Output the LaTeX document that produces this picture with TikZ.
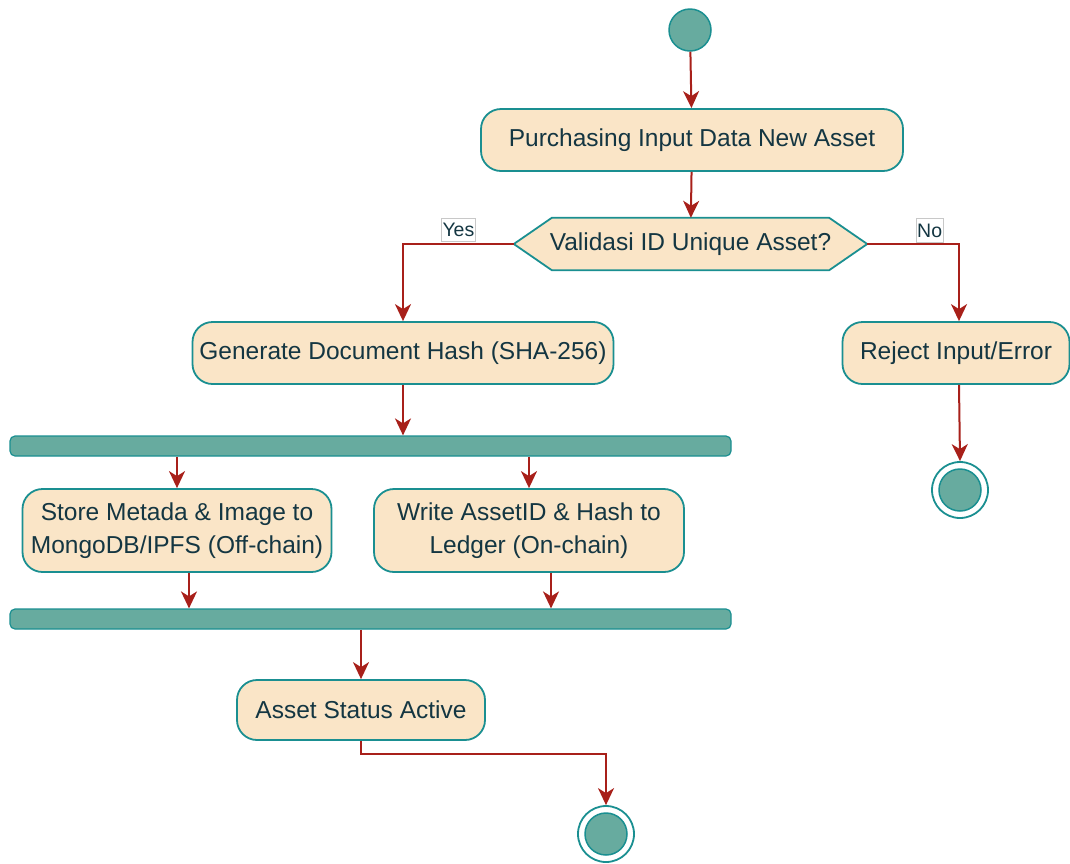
\documentclass[tikz,border=0pt]{standalone}
\usepackage{fontspec}
\setmainfont{Liberation Sans}
\usetikzlibrary{arrows.meta,backgrounds,calc}

\definecolor{actfill}{HTML}{FAE5C7}
\definecolor{actline}{HTML}{1A8F91}
\definecolor{txt}{HTML}{143642}
\definecolor{flowred}{HTML}{A8201A}
\definecolor{dotfill}{HTML}{67AB9F}
\definecolor{lblline}{HTML}{C8C8C8}

\tikzset{
  act/.style={draw=actline, fill=actfill, line width=1.8pt, rounded corners=20pt,
    text=txt, font=\fontsize{24.5}{33}\selectfont, align=center, inner sep=0pt},
  bar/.style={draw=actline, fill=dotfill, line width=1.2pt, rounded corners=5pt,
    minimum width=721pt, minimum height=20pt, inner sep=0pt},
  startdot/.style={circle, draw=actline, fill=dotfill, line width=1.5pt,
    minimum size=42pt, inner sep=0pt},
  endring/.style={circle, draw=actline, fill=white, line width=1.8pt,
    minimum size=56pt, inner sep=0pt},
  enddot/.style={circle, draw=actline, fill=dotfill, line width=1.5pt,
    minimum size=42pt, inner sep=0pt},
  flow/.style={draw=flowred, line width=2pt,
    -{Stealth[length=17pt, width=16pt, inset=5pt]}},
  lbl/.style={draw=lblline, fill=white, line width=0.6pt, text=txt,
    font=\fontsize{19.5}{22}\selectfont, inner xsep=1.2pt, inner ysep=5pt}
}

\begin{document}
\begin{tikzpicture}[x=1pt, y=-1pt]
\useasboundingbox (0,0) rectangle (1070,863);

% initial node and first activity
\node[startdot] (start) at (690,30) {};
\node[act, minimum width=422pt, minimum height=62pt] (purch) at (692,140)
  {Purchasing Input Data New Asset};

% decision (hexagon outline drawn behind its text)
\node[text=txt, font=\fontsize{24.5}{33}\selectfont, minimum width=353pt,
  minimum height=52pt, inner sep=0pt] (dec) at (690.5,244) {Validasi ID Unique Asset?};
\begin{scope}[on background layer]
  \draw[draw=actline, fill=actfill, line width=1.8pt, line join=miter]
    (dec.west) -- ([xshift=38pt]dec.north west) -- ([xshift=-38pt]dec.north east)
    -- (dec.east) -- ([xshift=-38pt]dec.south east) -- ([xshift=38pt]dec.south west) -- cycle;
\end{scope}

% branches
\node[act, minimum width=421pt, minimum height=62pt] (gen) at (403,353)
  {Generate Document Hash (SHA-256)};
\node[act, minimum width=227pt, minimum height=62pt] (reject) at (956,353)
  {Reject Input/Error};
\node[endring] (end1) at (960,490) {};
\node[enddot] at (end1) {};

% fork / join bars and parallel activities
\node[bar] (fork) at (370.5,446) {};
\node[act, minimum width=309pt, minimum height=83pt] (store) at (177,530.5)
  {Store Metada \& Image to\\MongoDB/IPFS (Off-chain)};
\node[act, minimum width=310pt, minimum height=83pt] (ledger) at (529,530.5)
  {Write AssetID \& Hash to\\Ledger (On-chain)};
\node[bar] (join) at (370.5,619) {};

\node[act, minimum width=248pt, minimum height=60pt] (active) at (361,710)
  {Asset Status Active};
\node[endring] (end2) at (606,834) {};
\node[enddot] at (end2) {};

% connectors
\draw[flow] (start) -- (purch);
\draw[flow] (purch) -- (dec);
\draw[flow] (dec.west) -| node[lbl, pos=0.25, above=2pt] {Yes} (gen.north);
\draw[flow] (dec.east) -| node[lbl, pos=0.34, above=1.5pt] {No} ([xshift=3pt]reject.north);
\draw[flow] ([xshift=3pt]reject.south) -- (end1.north);
\draw[flow] (gen.south) -- (gen.south |- fork.north);
\draw[flow] (store.north |- fork.south) -- (store.north);
\draw[flow] (ledger.north |- fork.south) -- (ledger.north);
\draw[flow] ([xshift=12pt]store.south) -- ([xshift=12pt]store.south |- join.north);
\draw[flow] ([xshift=22pt]ledger.south) -- ([xshift=22pt]ledger.south |- join.north);
\draw[flow] (active.north |- join.south) -- (active.north);
\draw[flow] (active.south) -- ([yshift=-13pt]active.south) -| (end2.north);
\end{tikzpicture}
\end{document}
